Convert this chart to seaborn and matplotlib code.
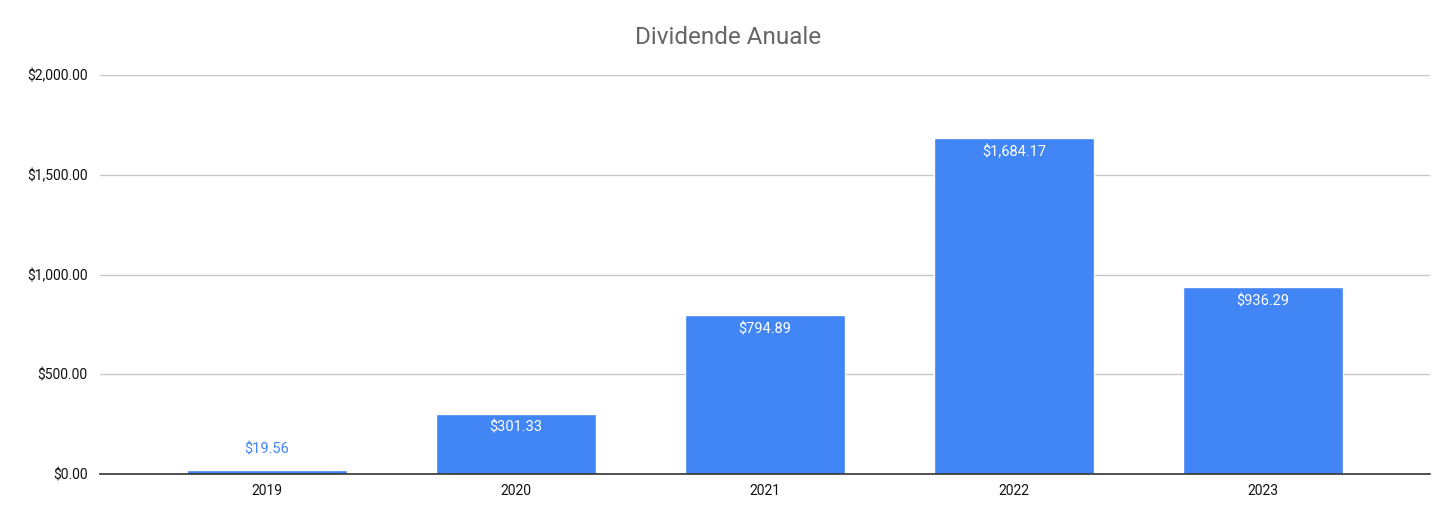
import matplotlib
matplotlib.use("Agg")
import matplotlib.pyplot as plt
import seaborn as sns
import pandas as pd
from matplotlib.ticker import FuncFormatter

# Data
years = ['2019', '2020', '2021', '2022', '2023']
dividends = [19.56, 301.33, 794.89, 1684.17, 936.29]
y_ticks = [0, 500, 1000, 1500, 2000]

BLUE = '#4285F4'

df = pd.DataFrame({'Year': years, 'Dividend': dividends})

sns.set_style('white')
plt.rcParams['font.family'] = ['Roboto', 'DejaVu Sans']

fig = plt.figure(figsize=(14.56, 5.22), dpi=100)
ax = fig.add_axes([100 / 1456, 1 - 474 / 522, 1330 / 1456, 399 / 522])

sns.barplot(data=df, x='Year', y='Dividend', color=BLUE, saturation=1,
            width=0.64, ax=ax)

ax.set_xlim(-0.67, 4.67)
ax.set_ylim(0, 2000)
ax.set_yticks(y_ticks)
ax.yaxis.set_major_formatter(FuncFormatter(lambda v, p: f'${v:,.2f}'))
ax.grid(axis='y', color='#c8c8c8', linewidth=1)
ax.set_axisbelow(True)
for s in ['top', 'right', 'left']:
    ax.spines[s].set_visible(False)
ax.spines['bottom'].set_color('#333333')
ax.spines['bottom'].set_linewidth(1.2)
ax.tick_params(axis='both', length=0, labelsize=10, colors='#111111')
ax.tick_params(axis='x', pad=7)
ax.tick_params(axis='y', pad=9)
ax.set_xlabel('')
ax.set_ylabel('')

# value labels: inside the bar in white, above it for the small bar
for i, v in enumerate(dividends):
    label = f'${v:,.2f}'
    if v > 150:
        ax.annotate(label, (i, v), xytext=(0, -5), textcoords='offset points',
                    ha='center', va='top', color='white', fontsize=10.5)
    else:
        ax.annotate(label, (i, v), xytext=(0, 10), textcoords='offset points',
                    ha='center', va='bottom', color=BLUE, fontsize=10.5)

fig.text(0.5, 1 - 38 / 522, 'Dividende Anuale', ha='center', va='center',
         fontsize=17.5, color='#666666')

fig.savefig('out.png', dpi=100)
